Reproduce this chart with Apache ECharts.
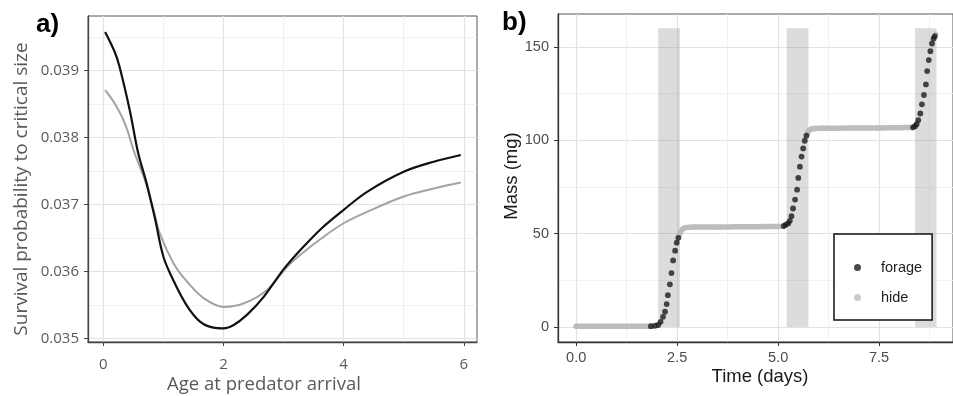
<!DOCTYPE html>
<html>
<head>
<meta charset="utf-8">
<script src="https://cdn.jsdelivr.net/npm/echarts@6.0.0/dist/echarts.min.js"></script>
<style>
  html, body { margin: 0; padding: 0; background: #fff; }
  #chart { width: 953px; height: 396px; }
</style>
</head>
<body>
<div id="chart"></div>
<script>
// ---------- Panel a data ----------
const ageBlack = [0.03, 0.19, 0.27, 0.44, 0.58, 0.72, 0.86, 1.00, 1.17, 1.39, 1.61, 1.83, 2.00, 2.17, 2.39, 2.67, 3.00, 3.28, 3.64, 4.00, 4.39, 5.00, 5.50, 5.95];
const survBlack = [0.03958, 0.03928, 0.03906, 0.03841, 0.03777, 0.03732, 0.03679, 0.03622, 0.03586, 0.03549, 0.03525, 0.03516, 0.03515, 0.03520, 0.03535, 0.03562, 0.03603, 0.03632, 0.03665, 0.03692, 0.03719, 0.03749, 0.03764, 0.03774];
const ageGray = [0.03, 0.19, 0.36, 0.52, 0.69, 0.83, 0.94, 1.17, 1.39, 1.67, 2.00, 2.33, 2.72, 3.06, 3.28, 3.64, 4.00, 4.39, 5.00, 5.50, 5.95];
const survGray = [0.03871, 0.03851, 0.03821, 0.03777, 0.03737, 0.03694, 0.03657, 0.03612, 0.03585, 0.03560, 0.03547, 0.03552, 0.03572, 0.03607, 0.03625, 0.03650, 0.03672, 0.03689, 0.03712, 0.03724, 0.03733];
const ticksA_x = [0, 2, 4, 6];
const minorA_x = [1, 3, 5];
const ticksA_y = [0.035, 0.036, 0.037, 0.038, 0.039];
const minorA_y = [0.0355, 0.0365, 0.0375, 0.0385, 0.0395];

// ---------- Panel b data ----------
const forageTime = [1.85, 1.95, 2.03, 2.09, 2.15, 2.20, 2.24, 2.27, 2.32, 2.36, 2.40, 2.45, 2.49, 2.53,
                    5.14, 5.19, 5.25, 5.29, 5.33, 5.37, 5.42, 5.47, 5.50, 5.54, 5.58, 5.62, 5.66, 5.70,
                    8.34, 8.39, 8.43, 8.47, 8.52, 8.56, 8.61, 8.66, 8.69, 8.73, 8.77, 8.81, 8.85, 8.88];
const forageMass = [0.5, 0.7, 1.1, 2.8, 5.5, 8.2, 12.3, 17.1, 22.9, 28.9, 35.7, 40.9, 45.2, 47.8,
                    54.1, 54.8, 55.5, 56.9, 59.4, 63.5, 68.3, 73.6, 79.9, 85.9, 91.3, 95.7, 99.8, 102.5,
                    107.0, 107.6, 108.7, 110.8, 114.4, 119.3, 124.3, 130.0, 137.1, 143.0, 147.8, 151.9, 154.6, 155.8];
const hideTime1 = [0.00, 0.50, 1.00, 1.50, 1.84];
const hideMass1 = [0.5, 0.5, 0.5, 0.5, 0.5];
const hideTime2 = [2.55, 2.60, 2.66, 2.75, 2.90, 3.50, 4.00, 4.50, 5.00, 5.12];
const hideMass2 = [49.3, 51.5, 52.8, 53.4, 53.6, 53.6, 53.7, 53.8, 53.9, 54.0];
const hideTime3 = [5.72, 5.76, 5.82, 5.92, 6.10, 6.80, 7.50, 8.00, 8.32];
const hideMass3 = [103.6, 105.2, 106.0, 106.4, 106.5, 106.6, 106.7, 106.8, 106.9];
const hideTime4 = [8.90];
const hideMass4 = [157.0];
const bandStart = [2.03, 5.21, 8.39];
const bandEnd = [2.57, 5.75, 8.92];
const bandTop = [160, 160, 160];
const ticksB_x = [0, 2.5, 5, 7.5];
const minorB_x = [1.25, 3.75, 6.25, 8.75];
const ticksB_y = [0, 50, 100, 150];
const minorB_y = [25, 75, 125];

const zip = (xs, ys) => xs.map((x, i) => [x, ys[i]]);

const fontA = "'Open Sans', 'DejaVu Sans', sans-serif";
const fontB = "'Liberation Sans', Arial, sans-serif";
const majorGrid = { show: true, lineStyle: { color: '#e2e2e2', width: 1.2 } };
const minorGrid = { show: true, lineStyle: { color: '#eeeeee', width: 0.8 } };

function mainAxis(grid, min, max, ticks, fmt, font, size, color, margin, lineColor) {
  return {
    type: 'value', gridIndex: grid, min: min, max: max,
    axisLine: { show: true, onZero: false, lineStyle: { color: lineColor, width: 1.3 } },
    axisTick: { show: true, length: 4, customValues: ticks, lineStyle: { color: lineColor, width: 1 } },
    axisLabel: { show: true, customValues: ticks, formatter: fmt, margin: margin,
                 fontFamily: font, fontSize: size, color: color },
    splitLine: majorGrid
  };
}
function minorAxis(grid, min, max, ticks) {
  return {
    type: 'value', gridIndex: grid, min: min, max: max,
    axisLine: { show: false }, axisTick: { show: false, customValues: ticks },
    axisLabel: { show: false, customValues: ticks }, splitLine: minorGrid
  };
}

const hideSegments = [[hideTime1, hideMass1], [hideTime2, hideMass2], [hideTime3, hideMass3]];
const hideAll = [].concat(zip(hideTime1, hideMass1), zip(hideTime2, hideMass2), zip(hideTime3, hideMass3), zip(hideTime4, hideMass4));

const series = [
  { name: 'grayCurve', type: 'line', xAxisIndex: 0, yAxisIndex: 0, data: zip(ageGray, survGray),
    showSymbol: false, smooth: 0.35, lineStyle: { color: '#a3a3a3', width: 2 }, z: 3 },
  { name: 'blackCurve', type: 'line', xAxisIndex: 0, yAxisIndex: 0, data: zip(ageBlack, survBlack),
    showSymbol: false, smooth: 0.35, lineStyle: { color: '#111111', width: 2.2 }, z: 4 },
  { name: 'bands', type: 'custom', xAxisIndex: 2, yAxisIndex: 2,
    data: bandStart.map((s, i) => [s, bandEnd[i], bandTop[i]]),
    renderItem: function (params, api) {
      const p0 = api.coord([api.value(0), 0]);
      const p1 = api.coord([api.value(1), api.value(2)]);
      return { type: 'rect', shape: { x: p0[0], y: p1[1], width: p1[0] - p0[0], height: p0[1] - p1[1] },
               style: { fill: 'rgba(150,150,150,0.33)' } };
    }, z: 1 }
];
hideSegments.forEach((seg, i) => {
  series.push({ name: 'hidePath' + i, type: 'line', xAxisIndex: 2, yAxisIndex: 2, data: zip(seg[0], seg[1]),
    showSymbol: false, smooth: 0.3, lineStyle: { color: '#bdbdbd', width: 5.5, cap: 'round', join: 'round' }, z: 2 });
});
series.push({ name: 'hide', type: 'scatter', xAxisIndex: 2, yAxisIndex: 2, data: hideAll,
  symbolSize: 5.5, itemStyle: { color: '#bdbdbd' }, z: 2 });
series.push({ name: 'forage', type: 'scatter', xAxisIndex: 2, yAxisIndex: 2, data: zip(forageTime, forageMass),
  symbolSize: 5.8, itemStyle: { color: '#1c1c1c' }, z: 3 });

const chart = echarts.init(document.getElementById('chart'), null, { renderer: 'canvas' });
chart.setOption({
  animation: false,
  backgroundColor: '#ffffff',
  grid: [
    { left: 88, top: 16, width: 389, height: 326, show: true, borderColor: '#555555', borderWidth: 1, backgroundColor: 'transparent' },
    { left: 558, top: 14, width: 400, height: 328, show: true, borderColor: '#555555', borderWidth: 1, backgroundColor: 'transparent' }
  ],
  xAxis: [
    mainAxis(0, -0.255, 6.22, ticksA_x, v => String(v), fontA, 15, '#5a5a5a', 15, '#444444'),
    minorAxis(0, -0.255, 6.22, minorA_x),
    mainAxis(1, -0.45, 9.33, ticksB_x, v => v.toFixed(1), fontB, 14.5, '#4d4d4d', 8, '#333333'),
    minorAxis(1, -0.45, 9.33, minorB_x)
  ],
  yAxis: [
    mainAxis(0, 0.034945, 0.039818, ticksA_y, v => v.toFixed(3), fontA, 15, '#5a5a5a', 9, '#444444'),
    minorAxis(0, 0.034945, 0.039818, minorA_y),
    mainAxis(1, -8, 167.7, ticksB_y, v => String(v), fontB, 14.5, '#4d4d4d', 9, '#333333'),
    minorAxis(1, -8, 167.7, minorB_y)
  ],
  legend: {
    data: [{ name: 'forage' }, { name: 'hide' }],
    orient: 'vertical', left: 834, top: 234,
    icon: 'circle', itemWidth: 7, itemHeight: 7, itemGap: 15,
    padding: [26, 10, 15, 20],
    backgroundColor: '#ffffff', borderColor: '#111111', borderWidth: 1.5, borderRadius: 0,
    textStyle: { fontFamily: fontB, fontSize: 14.5, color: '#222222', lineHeight: 14, padding: [0, 0, 0, 15] },
    selectedMode: false, z: 10
  },
  graphic: [
    { type: 'text', x: 36, y: 25, style: { text: 'a)', font: "bold 26px 'Liberation Sans', Arial, sans-serif", fill: '#000', verticalAlign: 'middle' } },
    { type: 'text', x: 502, y: 23, style: { text: 'b)', font: "bold 26px 'Liberation Sans', Arial, sans-serif", fill: '#000', verticalAlign: 'middle' } },
    { type: 'text', x: 264, y: 385, style: { text: 'Age at predator arrival', font: "18.5px 'Open Sans', sans-serif", fill: '#595959', align: 'center', verticalAlign: 'middle' } },
    { type: 'text', x: 22, y: 189, rotation: Math.PI / 2, style: { text: 'Survival probability to critical size', font: "19px 'Open Sans', sans-serif", fill: '#595959', align: 'center', verticalAlign: 'middle' } },
    { type: 'text', x: 760, y: 377, style: { text: 'Time (days)', font: "18.5px 'Liberation Sans', Arial, sans-serif", fill: '#1a1a1a', align: 'center', verticalAlign: 'middle' } },
    { type: 'text', x: 512, y: 176, rotation: Math.PI / 2, style: { text: 'Mass (mg)', font: "18.5px 'Liberation Sans', Arial, sans-serif", fill: '#1a1a1a', align: 'center', verticalAlign: 'middle' } }
  ],
  series: series
});
</script>
</body>
</html>
